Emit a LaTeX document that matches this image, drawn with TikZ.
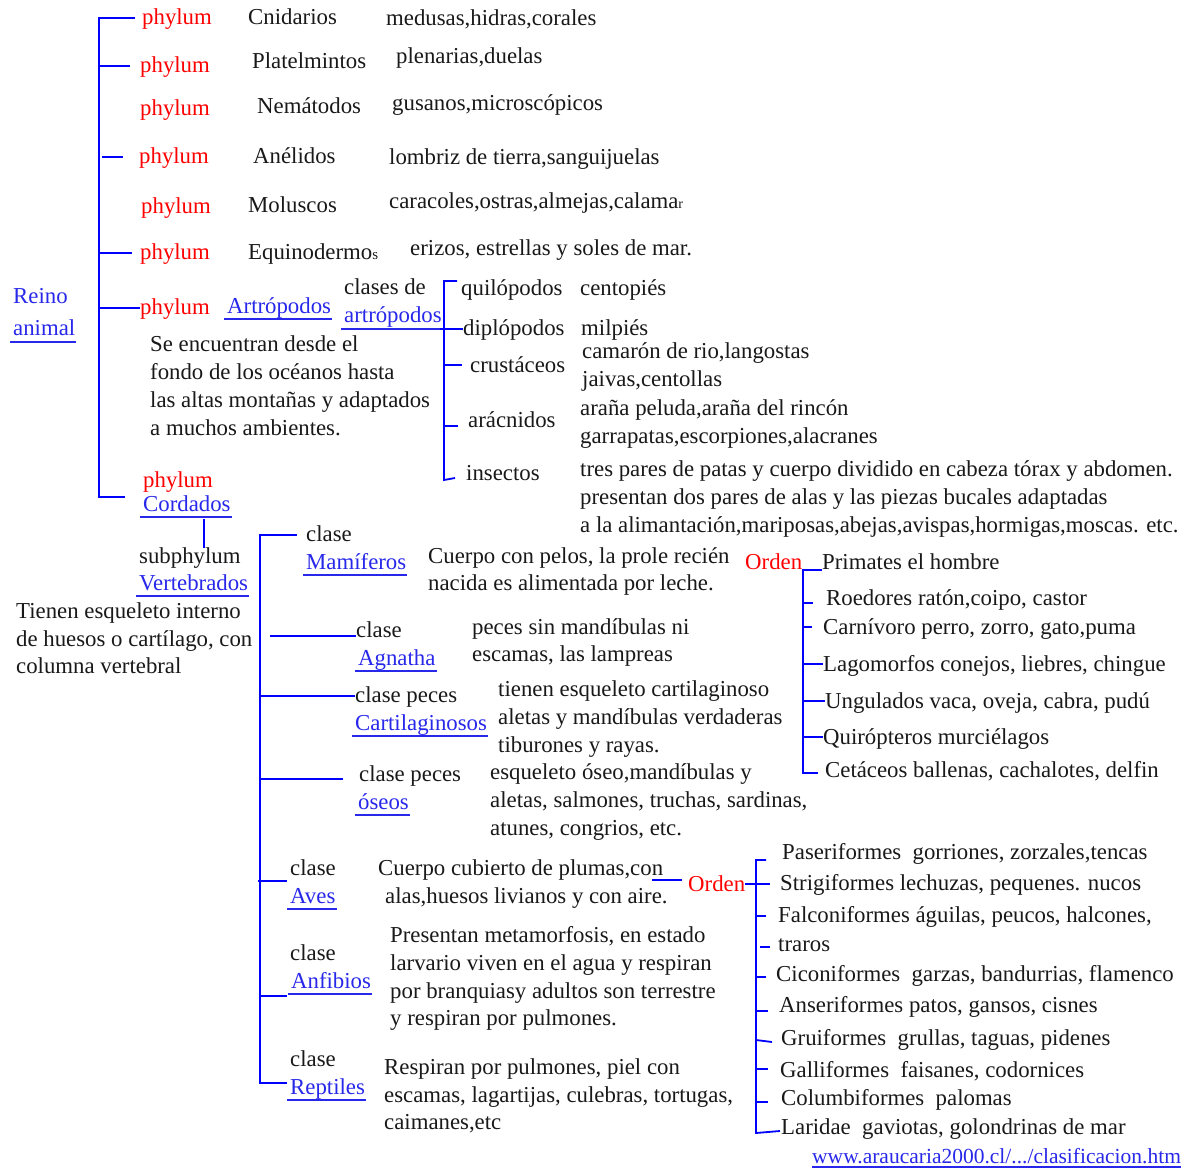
\documentclass[tikz,border=0pt]{standalone}
\usepackage{fontspec}
\setmainfont{LiberationSerif}[Extension=.ttf,UprightFont=*-Regular,BoldFont=*-Bold]
\definecolor{linkblue}{RGB}{40,40,235}
\definecolor{lineblue}{RGB}{0,0,255}
\definecolor{redtxt}{RGB}{255,0,0}
\definecolor{txtc}{RGB}{25,25,25}
\begin{document}
\begin{tikzpicture}[x=1pt,y=-1pt,
  txt/.style={anchor=base west,inner sep=0pt,text=txtc,font=\fontsize{22.8}{26}\selectfont},
  rtxt/.style={txt,text=redtxt},
  ltxt/.style={txt,text=linkblue},
  bl/.style={draw=lineblue,line width=1.8pt},
  ul/.style={draw=linkblue,line width=1.6pt}]
\useasboundingbox (0,0) rectangle (1187,1169);
\fill[white] (0,0) rectangle (1187,1169);

% ---------- phyla ----------
\node[rtxt] (ph1) at (142,25) {phylum};
\node[txt] (cni) at (248,25) {Cnidarios};
\node[txt] (cnie) at (386,26) {medusas,hidras,corales};
\node[rtxt] (ph2) at (140,73) {phylum};
\node[txt] (pla) at (252,69) {Platelmintos};
\node[txt] (plae) at (396,64) {plenarias,duelas};
\node[rtxt] (ph3) at (140,116) {phylum};
\node[txt] (nem) at (257,114) {Nemátodos};
\node[txt] (neme) at (392,111) {gusanos,microscópicos};
\node[rtxt] (ph4) at (139,164) {phylum};
\node[txt] (ane) at (253,164) {Anélidos};
\node[txt] (anee) at (389,165) {lombriz de tierra,sanguijuelas};
\node[rtxt] (ph5) at (141,214) {phylum};
\node[txt] (mol) at (248,213) {Moluscos};
\node[txt] (mole) at (389,209) {caracoles,ostras,almejas,calama{\fontsize{14}{14}\selectfont r}};
\node[rtxt] (ph6) at (140,260) {phylum};
\node[txt] (equ) at (248,260) {Equinodermo{\fontsize{15}{15}\selectfont s}};
\node[txt] (eque) at (410,256) {erizos, estrellas y soles de mar.};
\node[rtxt] (ph7) at (140,315) {phylum};
\node[ltxt] (art) at (227,313) {Artrópodos};
\node[ltxt] (reino) at (13,304) {Reino};
\node[ltxt] (animal) at (13,336) {animal};
\node[txt] (clde) at (344,295) {clases de};
\node[ltxt] (art2) at (344,323) {artrópodos};

\node[txt] (qui) at (461,296) {quilópodos};
\node[txt] (dip) at (463,336) {diplópodos};
\node[txt] (cru) at (470,372) {crustáceos};
\node[txt] (ara) at (468,427) {arácnidos};
\node[txt] (ins) at (466,480) {insectos};
\node[txt] (quie) at (580,296) {centopiés};
\node[txt] (dipe) at (581,335) {milpiés};
\node[txt] (crue1) at (582,359) {camarón de rio,langostas};
\node[txt] (crue2) at (582,386) {jaivas,centollas};
\node[txt] (arae1) at (580,415) {araña peluda,araña del rincón};
\node[txt] (arae2) at (580,443) {garrapatas,escorpiones,alacranes};
\node[txt] (inse1) at (580,476) {tres pares de patas y cuerpo dividido en cabeza tórax y abdomen.};
\node[txt] (inse2) at (580,504) {presentan dos pares de alas y las piezas bucales adaptadas};
\node[txt] (inse3) at (580,532) {a la alimantación,mariposas,abejas,avispas,hormigas,moscas. etc.};

\node[txt] (artd1) at (150,352) {Se encuentran desde el};
\node[txt] (artd2) at (150,379) {fondo de los océanos hasta};
\node[txt] (artd3) at (150,407) {las altas montañas y adaptados};
\node[txt] (artd4) at (150,435) {a muchos ambientes.};

\node[rtxt] (ph8) at (143,487) {phylum};
\node[ltxt] (cor) at (143,511) {Cordados};
\node[txt] (sub) at (139,563) {subphylum};
\node[ltxt] (ver) at (139,590) {Vertebrados};
\node[txt] (verd1) at (16,618) {Tienen esqueleto interno};
\node[txt] (verd2) at (16,646) {de huesos o cartílago, con};
\node[txt] (verd3) at (16,673) {columna vertebral};

% ---------- classes ----------
\node[txt] (c1) at (306,541) {clase};
\node[ltxt] (mam) at (306,569) {Mamíferos};
\node[txt] (c2) at (356,637) {clase};
\node[ltxt] (agn) at (358,665) {Agnatha};
\node[txt] (c3) at (355,702) {clase peces};
\node[ltxt] (car) at (355,730) {Cartilaginosos};
\node[txt] (c4) at (359,781) {clase peces};
\node[ltxt] (ose) at (358,809) {óseos};
\node[txt] (c5) at (290,875) {clase};
\node[ltxt] (ave) at (290,903) {Aves};
\node[txt] (c6) at (290,960) {clase};
\node[ltxt] (anf) at (291,988) {Anfibios};
\node[txt] (c7) at (290,1066) {clase};
\node[ltxt] (rep) at (290,1094) {Reptiles};

\node[txt] (mamd1) at (428,563) {Cuerpo con pelos, la prole recién};
\node[txt] (mamd2) at (428,590) {nacida es alimentada por leche.};
\node[txt] (agnd1) at (472,634) {peces sin mandíbulas ni};
\node[txt] (agnd2) at (472,661) {escamas, las lampreas};
\node[txt] (card1) at (498,696) {tienen esqueleto cartilaginoso};
\node[txt] (card2) at (498,724) {aletas y mandíbulas verdaderas};
\node[txt] (card3) at (498,752) {tiburones y rayas.};
\node[txt] (osed1) at (490,779) {esqueleto óseo,mandíbulas y};
\node[txt] (osed2) at (490,807) {aletas, salmones, truchas, sardinas,};
\node[txt] (osed3) at (490,835) {atunes, congrios, etc.};
\node[txt] (aved1) at (378,875) {Cuerpo cubierto de plumas,con};
\node[txt] (aved2) at (385,903) {alas,huesos livianos y con aire.};
\node[txt] (anfd1) at (390,942) {Presentan metamorfosis, en estado};
\node[txt] (anfd2) at (390,970) {larvario viven en el agua y respiran};
\node[txt] (anfd3) at (390,998) {por branquiasy adultos son terrestre};
\node[txt] (anfd4) at (390,1025) {y respiran por pulmones.};
\node[txt] (repd1) at (384,1074) {Respiran por pulmones, piel con};
\node[txt] (repd2) at (384,1102) {escamas, lagartijas, culebras, tortugas,};
\node[txt] (repd3) at (384,1129) {caimanes,etc};

% ---------- mammal orders ----------
\node[rtxt] (ord1) at (745,569) {Orden};
\node[txt] (m1) at (822,569) {Primates el hombre};
\node[txt] (m2) at (826,605) {Roedores ratón,coipo, castor};
\node[txt] (m3) at (823,634) {Carnívoro perro, zorro, gato,puma};
\node[txt] (m4) at (823,671) {Lagomorfos conejos, liebres, chingue};
\node[txt] (m5) at (825,708) {Ungulados vaca, oveja, cabra, pudú};
\node[txt] (m6) at (823,744) {Quirópteros murciélagos};
\node[txt] (m7) at (825,777) {Cetáceos ballenas, cachalotes, delfin};

% ---------- bird orders ----------
\node[rtxt] (ord2) at (688,891) {Orden};
\node[txt] (b1) at (782,859) {Paseriformes\ \ gorriones, zorzales,tencas};
\node[txt] (b2) at (780,890) {Strigiformes lechuzas, pequenes. nucos};
\node[txt] (b3) at (778,922) {Falconiformes águilas, peucos, halcones,};
\node[txt] (b4) at (778,951) {traros};
\node[txt] (b5) at (776,981) {Ciconiformes\ \ garzas, bandurrias, flamenco};
\node[txt] (b6) at (779,1012) {Anseriformes patos, gansos, cisnes};
\node[txt] (b7) at (781,1045) {Gruiformes\ \ grullas, taguas, pidenes};
\node[txt] (b8) at (780,1077) {Galliformes\ \ faisanes, codornices};
\node[txt] (b9) at (781,1105) {Columbiformes\ \ palomas};
\node[txt] (b10) at (781,1134) {Laridae\ \ gaviotas, golondrinas de mar};

\node[ltxt,font=\fontsize{21.5}{24}\selectfont] (url) at (812,1163) {www.araucaria2000.cl/.../clasificacion.htm};

% ---------- underlines ----------
\foreach \n in {animal,art,art2,cor,ver,mam,agn,car,ose,ave,anf,rep}
  \draw[ul] ([xshift=-3pt,yshift=-6pt]\n.base west) -- ([xshift=1pt,yshift=-6pt]\n.base east);
\draw[draw=linkblue,line width=1.2pt] ([yshift=-4pt]url.base west) -- ([yshift=-4pt]url.base east);

% ---------- connectors ----------
\coordinate (sp1t) at (99,18);
\coordinate (sp1b) at (99,497);
\draw[bl] (ph1.west |- 0,18) ++(-7,0) -- (sp1t) -- (sp1b) -- ++(26,0);
\draw[bl] (99,66) -- (130,66);
\draw[bl] (102,157) -- (123,157);
\draw[bl] (99,253) -- (132,253);
\draw[bl] (99,308) -- (ph7.west |- 0,308);
\draw[bl] (204,519) -- (204,548);

\draw[bl] (457,281) -- (444,281) -- (444,480) -- (455,478);
\draw[bl] (440,329) -- (dip.west |- 0,329);
\draw[bl] (444,365) -- (462,365);
\draw[bl] (444,426) -- (458,426);

\draw[bl] (297,535) -- (260,535) -- (260,1083) -- (287,1083);
\draw[bl] (270,636) -- (c2.west |- 0,636);
\draw[bl] (260,696) -- (c3.west |- 0,696);
\draw[bl] (261,779) -- (343,779);
\draw[bl] (258,881) -- (287,881);
\draw[bl] (260,996) -- (287,996);

\draw[bl] (ord1.east |- 0,570) -- (m1.west |- 0,570);
\draw[bl] (803,570) -- (803,773) -- (818,773);
\draw[bl] (803,603) -- (813,603);
\draw[bl] (803,627) -- (812,627);
\draw[bl] (803,664) -- (m4.west |- 0,664);
\draw[bl] (803,701) -- (m5.west |- 0,701);
\draw[bl] (803,737) -- (m6.west |- 0,737);

\draw[bl] (652,880) -- (682,880);
\draw[bl] (ord2.east |- 0,884) -- (770,884);
\draw[bl] (766,860) -- (756,860) -- (756,1133) -- (780,1131);
\draw[bl] (756,916) -- (766,916);
\draw[bl] (760,947) -- (770,947);
\draw[bl] (756,977) -- (766,977);
\draw[bl] (756,1011) -- (768,1011);
\draw[bl] (756,1040) -- (772,1042);
\draw[bl] (756,1069) -- (768,1069);
\draw[bl] (756,1102) -- (768,1102);
\end{tikzpicture}
\end{document}
